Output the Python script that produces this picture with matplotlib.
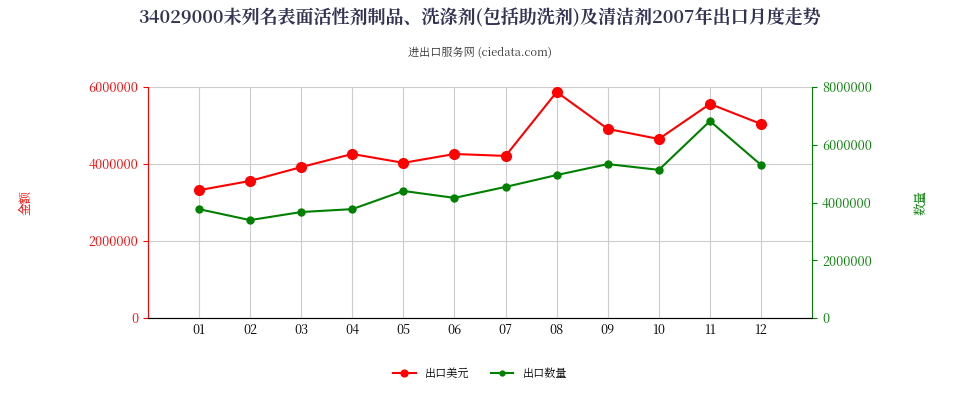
import matplotlib
matplotlib.use('Agg')
import matplotlib.pyplot as plt
from matplotlib import font_manager
from matplotlib.ticker import FuncFormatter

# pick whatever CJK font is actually registered
cjk = [f.name for f in font_manager.fontManager.ttflist if 'CJK' in f.name]
cjk_name = 'Noto Sans CJK SC' if 'Noto Sans CJK SC' in cjk else (cjk[0] if cjk else 'DejaVu Sans')
plt.rcParams['font.family'] = [cjk_name, 'DejaVu Sans']

months = ['01', '02', '03', '04', '05', '06', '07', '08', '09', '10', '11', '12']
export_usd = [3320000, 3560000, 3920000, 4260000, 4030000, 4260000, 4210000,
              5870000, 4910000, 4650000, 5560000, 5040000]
export_qty = [3770000, 3390000, 3670000, 3770000, 4400000, 4160000, 4540000,
              4950000, 5330000, 5130000, 6820000, 5300000]

fig = plt.figure(figsize=(9.6, 4), dpi=100)
ax = fig.add_axes([0.154, 0.205, 0.692, 0.5775])
ax2 = ax.twinx()
x = list(range(1, 13))

ax.plot(x, export_usd, color='#ff0000', marker='o', markersize=7, lw=1.5, label='出口美元')
ax2.plot(x, export_qty, color='#008000', marker='o', markersize=5, lw=1.5, label='出口数量')

plain = FuncFormatter(lambda v, p: f'{int(v)}')
ax.set_xlim(0, 13)
ax.set_ylim(0, 6000000)
ax2.set_ylim(0, 8000000)
ax.set_yticks([0, 2000000, 4000000, 6000000])
ax2.set_yticks([0, 2000000, 4000000, 6000000, 8000000])
ax.yaxis.set_major_formatter(plain)
ax2.yaxis.set_major_formatter(plain)
ax.set_xticks(x)
ax.set_xticklabels(months, fontsize=9)
ax.tick_params(axis='y', colors='#ff0000', labelsize=9)
ax2.tick_params(axis='y', colors='#008000', labelsize=9)
ax.tick_params(axis='x', length=0)
ax.grid(True, color='#cccccc', lw=0.8)
ax.set_axisbelow(True)
ax.spines['top'].set_visible(False)
ax2.spines['top'].set_visible(False)
ax.spines['right'].set_visible(False)
ax.spines['left'].set_color('#ff0000')
ax2.spines['left'].set_visible(False)
ax2.spines['right'].set_color('#008000')
ax.spines['bottom'].set_color('#888888')

ax.set_ylabel('金额', color='#ff0000', fontsize=9, labelpad=40)
ax2.set_ylabel('数量', color='#008000', fontsize=9, labelpad=30)

fig.text(0.5, 0.955, '34029000未列名表面活性剂制品、洗涤剂(包括助洗剂)及清洁剂2007年出口月度走势',
         ha='center', va='center', fontsize=13, fontweight='bold', color='#333355')
fig.text(0.5, 0.87, '进出口服务网 (ciedata.com)', ha='center', va='center', fontsize=8, color='#333333')

h1, l1 = ax.get_legend_handles_labels()
h2, l2 = ax2.get_legend_handles_labels()
fig.legend(h1 + h2, l1 + l2, loc='center', bbox_to_anchor=(0.5, 0.065), ncol=2,
           frameon=False, fontsize=8, markerscale=0.7)

fig.savefig('out.png', dpi=100)
